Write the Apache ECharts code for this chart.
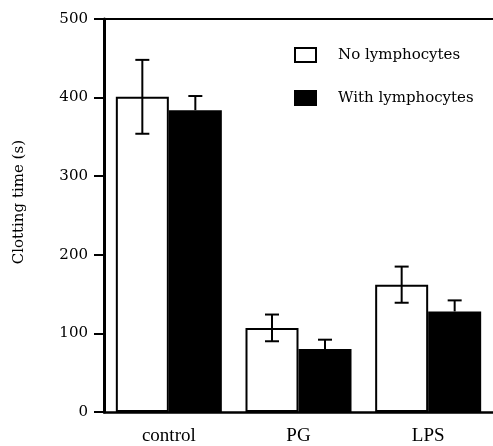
<!DOCTYPE html>
<html>
<head>
<meta charset="utf-8">
<script src="https://cdn.jsdelivr.net/npm/echarts@6/dist/echarts.min.js"></script>
<style>html,body{margin:0;padding:0;background:#fff}#c{width:493px;height:446px}</style>
</head>
<body>
<div id="c"></div>
<script>
const categories = ['control', 'PG', 'LPS'];
const seriesNames = ['No lymphocytes', 'With lymphocytes'];
const noLymph = [401, 107, 162];
const noLymphErr = [47, 17, 23];
const withLymph = [384, 80, 128];
const withLymphErr = [18, 12, 14];
const yTicks = [0, 100, 200, 300, 400, 500];

const FONT = 'DejaVu Serif';
const BAR_W = 53;

function errSeries(values, errs, offset, both) {
  return {
    type: 'custom',
    z: 10,
    silent: true,
    data: values.map((v, i) => [i, v, errs[i]]),
    renderItem: function (params, api) {
      const i = api.value(0), v = api.value(1), e = api.value(2);
      const top = api.coord([i, v + e]);
      const bot = api.coord([i, both ? v - e : v]);
      const x = top[0] + offset;
      const cw = 7;
      const st = { stroke: '#000', lineWidth: 2 };
      const ch = [
        { type: 'line', shape: { x1: x, y1: top[1], x2: x, y2: bot[1] }, style: st },
        { type: 'line', shape: { x1: x - cw, y1: top[1], x2: x + cw, y2: top[1] }, style: st }
      ];
      if (both) ch.push({ type: 'line', shape: { x1: x - cw, y1: bot[1], x2: x + cw, y2: bot[1] }, style: st });
      return { type: 'group', children: ch };
    }
  };
}

const chart = echarts.init(document.getElementById('c'), null, { renderer: 'canvas' });
chart.setOption({
  animation: false,
  backgroundColor: '#fff',
  grid: { left: 104, right: -1, top: 19, bottom: 33, containLabel: false },
  legend: {
    orient: 'vertical',
    left: 294,
    top: 47,
    padding: 0,
    itemWidth: 21,
    itemHeight: 14,
    itemGap: 27,
    icon: 'rect',
    data: seriesNames,
    textStyle: { fontFamily: FONT, fontSize: 15, color: '#000', padding: [0, 0, 0, 17] }
  },
  graphic: [{
    type: 'text',
    left: 12,
    top: 140,
    rotation: Math.PI / 2,
    style: { text: 'Clotting time (s)', font: '15px "DejaVu Serif"', fill: '#000', align: 'center', verticalAlign: 'middle' }
  }],
  xAxis: [{
    type: 'category',
    data: categories,
    axisLine: { lineStyle: { color: '#000', width: 2.5 } },
    axisTick: { alignWithLabel: true, length: 9, lineStyle: { color: '#000', width: 2 } },
    axisLabel: { fontFamily: 'Liberation Serif', fontSize: 19, color: '#000', margin: 15 },
    splitLine: { show: false }
  }, {
    type: 'category',
    position: 'top',
    data: categories,
    axisLine: { show: true, lineStyle: { color: '#000', width: 2 } },
    axisTick: { show: false },
    axisLabel: { show: false }
  }],
  yAxis: {
    type: 'value',
    min: 0,
    max: 500,
    interval: 100,
    axisLine: { show: true, lineStyle: { color: '#000', width: 3 } },
    axisTick: { show: true, length: 10, lineStyle: { color: '#000', width: 2 } },
    axisLabel: { fontFamily: FONT, fontSize: 15, color: '#000', margin: 16,
      formatter: v => yTicks.includes(v) ? String(v) : '' },
    splitLine: { show: false }
  },
  series: [
    {
      name: seriesNames[0], type: 'bar', data: noLymph, barWidth: BAR_W, barGap: '0%',
      itemStyle: { color: '#fff', borderColor: '#000', borderWidth: 2 }
    },
    {
      name: seriesNames[1], type: 'bar', data: withLymph, barWidth: BAR_W, barGap: '0%',
      itemStyle: { color: '#000', borderColor: '#000', borderWidth: 2 }
    },
    errSeries(noLymph, noLymphErr, -BAR_W / 2, true),
    errSeries(withLymph, withLymphErr, BAR_W / 2, false)
  ]
});
</script>
</body>
</html>
